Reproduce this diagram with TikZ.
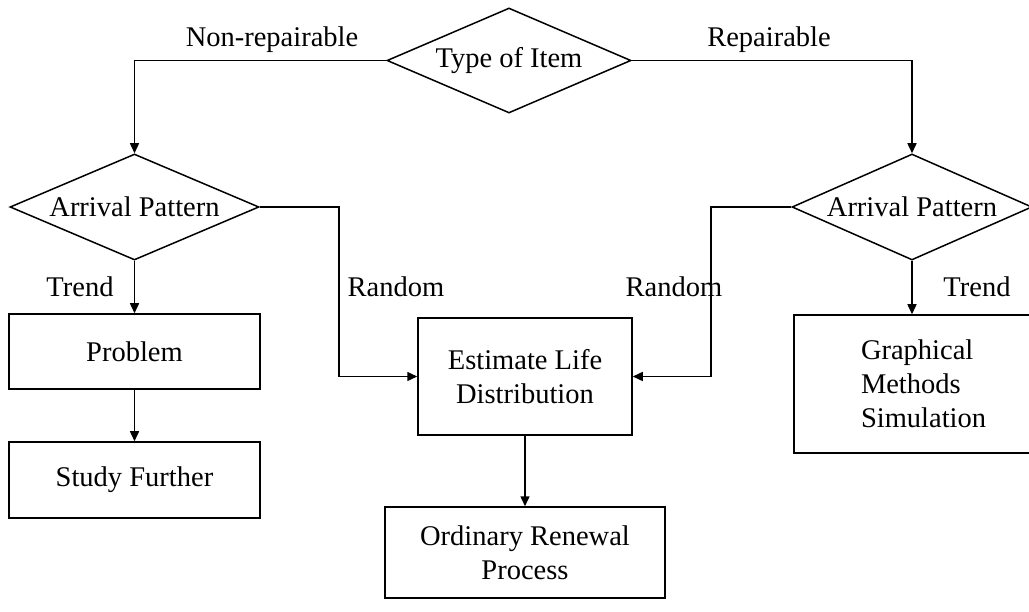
\documentclass[tikz,border=0pt]{standalone}
\usepackage{fontspec}
\setmainfont{Liberation Serif}
\usetikzlibrary{shapes.geometric,arrows.meta}
\begin{document}
\begin{tikzpicture}[x=1pt,y=-1pt,
  every node/.style={font=\fontsize{28.5}{34}\selectfont},
  line/.style={line width=1.5pt},
  arr/.style={line, -{Triangle[length=10pt,width=9pt]}},
  decision/.style={draw, line width=1.5pt, diamond, inner sep=0pt},
  stepbox/.style={draw, line width=1.5pt, rectangle, inner sep=0pt, align=center},
  lbl/.style={anchor=base, inner sep=0pt}]
\useasboundingbox (0,0) rectangle (1029,612);

% decisions
\node[decision, minimum width=244pt, minimum height=105pt, aspect=2.32] (type) at (509,60.5) {Type of Item};
\node[decision, minimum width=249pt, minimum height=106pt, aspect=2.35] (ld) at (134.5,207) {Arrival Pattern};
\node[decision, minimum width=240pt, minimum height=106pt, aspect=2.26] (rd) at (912,207) {Arrival Pattern};

% process boxes
\node[stepbox, minimum width=251pt, minimum height=75pt] (prob) at (134.5,351.5) {Problem};
\node[stepbox, minimum width=251pt, minimum height=76pt] (study) at (134.5,480) {Study Further};
\node[stepbox, minimum width=214pt, minimum height=117pt] (est) at (525,376.5) {Estimate Life\\Distribution};
\node[stepbox, minimum width=280pt, minimum height=91pt] (ord) at (525,552.5) {Ordinary Renewal\\Process};
\node[stepbox, minimum width=236pt, minimum height=138pt, text width=102pt, align=left] (gm) at (912,384) {Graphical\\Methods\\Simulation};

% bends of the random branches
\coordinate (lbend) at (339,207);
\coordinate (rbend) at (711,207);

% connectors
\draw[arr] (type.west) -| (ld.north);
\draw[arr] (type.east) -| (rd.north);
\draw[arr] (ld.south) -- (prob.north);
\draw[arr] (prob.south) -- (study.north);
\draw[arr] (rd.south) -- (gm.north);
\draw[arr] (ld.east) -- (lbend) |- (est.west);
\draw[arr] (rd.west) -- (rbend) |- (est.east);
\draw[arr] (est.south) -- (ord.north);

% branch labels
\node[lbl] (lnr) at (272,47) {Non-repairable};
\node[lbl] (lr) at (769,47) {Repairable};
\node[lbl] (ltl) at (80,297) {Trend};
\node[lbl] (lrl) at (396,297) {Random};
\node[lbl] (lrr) at (674,297) {Random};
\node[lbl] (ltr) at (977,297) {Trend};
\end{tikzpicture}
\end{document}
